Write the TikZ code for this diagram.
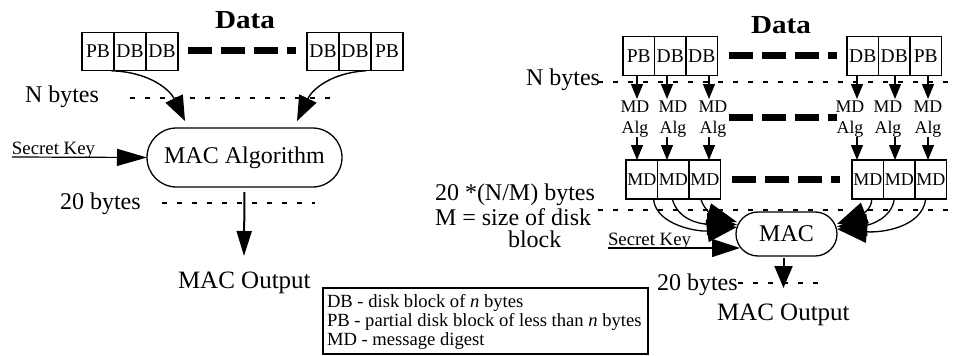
\documentclass[tikz,border=0pt]{standalone}
\usepackage{fontspec}
\setmainfont{Liberation Serif}
\usetikzlibrary{arrows.meta,shapes.misc,calc}
\newcommand\setfs[1]{\fontsize{#1}{#1}\selectfont}

\begin{document}
\begin{tikzpicture}[x=1pt,y=-1pt,
  every node/.style={inner sep=0pt,outer sep=0pt},
  cell/.style={draw,line width=1.1pt,minimum width=32pt,minimum height=38.5pt,font=\setfs{19.5}},
  rcell/.style={cell,minimum width=31.5pt},
  mdcell/.style={cell,minimum width=31.5pt,minimum height=39pt,font=\setfs{18}},
  txt/.style={anchor=base west,font=\setfs{24}},
  lbl/.style={anchor=base,font=\setfs{17.8}},
  legtxt/.style={anchor=base west,font=\setfs{18.6}},
  keytxt/.style={anchor=base west,font=\setfs{18.8}},
  title/.style={anchor=base,font=\bfseries\setfs{26}},
  macbox/.style={rounded rectangle,draw,line width=1.3pt,font=\setfs{24}},
  bigdash/.style={line width=7pt,dash pattern=on 24pt off 9pt},
  thindash/.style={line width=1.2pt,dash pattern=on 5pt off 10pt},
  lcurve/.style={line width=1.4pt,-{Triangle[length=25pt,width=19pt]}},
  rcurve/.style={line width=1.3pt,-{Triangle[length=30pt,width=22pt]}},
  smallarrow/.style={line width=1.2pt,-{Triangle[length=15pt,width=12pt]}},
  keyarrow/.style={line width=1.2pt,-{Triangle[length=30pt,width=17pt]}},
  outarrow/.style={line width=2pt,-{Triangle[length=25pt,width=15pt]}}
]
\useasboundingbox (0,0) rectangle (954,356);

% ---------------- single MAC over the whole data ----------------
\node[title] (ldata) at (245,28) {\scalebox{1.12}[1]{Data}};
\node[cell] (la1) at (98,51.5) {PB};
\node[cell] (la2) at (130,51.5) {DB};
\node[cell] (la3) at (162,51.5) {DB};
\node[cell] (lb1) at (323,51.5) {DB};
\node[cell] (lb2) at (355,51.5) {DB};
\node[cell] (lb3) at (387,51.5) {PB};
\draw[bigdash] (188,50) -- (296,50);

\node[txt] (lnb) at (25,102) {N bytes};
\draw[thindash] (130,98) -- (332,98);

\node[macbox,minimum width=195pt,minimum height=59pt] (lmac) at (244.5,157.5) {MAC Algorithm};

\coordinate (ltip1) at (185,121);
\coordinate (ltip2) at (297,121);
\draw[lcurve] ($(la1.south east)+(-3,0)$) .. controls (150,72) and (170,90) .. (ltip1);
\draw[lcurve] ($(lb3.south west)+(-5,0)$) .. controls (330,73) and (312,90) .. (ltip2);

\node[keytxt] (lsk) at (12,154) {Secret Key};
\coordinate (lskline) at (12,157);
\draw[keyarrow] (lskline) -- (lmac.west);

\node[txt] (l20) at (60,209) {20 bytes};
\draw[thindash] (162,203) -- (315,203);
\coordinate (louttip) at (244,256);
\draw[outarrow,shorten <=5pt] (lmac.south) -- (louttip);
\node[txt,font=\setfs{25}] (lout) at (178,288.5) {MAC Output};

% ---------------- legend ----------------
\node[draw,line width=1.4pt,minimum width=325pt,minimum height=66pt] (legend) at (485.5,321) {};
\node[legtxt] (lg1) at (327,307) {DB - disk block of \textit{n} bytes};
\node[legtxt] (lg2) at (327,326) {PB - partial disk block of less than \textit{n} bytes};
\node[legtxt] (lg3) at (327,345) {MD - message digest};

% ---------------- MAC over per-block digests ----------------
\node[title] (rdata) at (781,34) {\scalebox{1.12}[1]{Data}};
\node[rcell] (ra1) at (638.75,56) {PB};
\node[rcell] (ra2) at (670.25,56) {DB};
\node[rcell] (ra3) at (701.75,56) {DB};
\node[rcell] (rb1) at (862.75,56) {DB};
\node[rcell] (rb2) at (894.25,56) {DB};
\node[rcell] (rb3) at (925.75,56) {PB};
\draw[bigdash] (729,55) -- (837,55);

\node[txt] (rnb) at (526,85) {N bytes};
\draw[thindash] (598,82) -- (954,82);

% digest algorithm labels
\foreach \i/\x in {1/635,2/673,3/713,4/850,5/888,6/928}{
  \node[lbl] (md\i) at (\x,112) {MD};
  \node[lbl] (alg\i) at (\x,133) {Alg};
}
\draw[bigdash] (729,117) -- (837,117);

% digest cells
\node[mdcell] (rc1) at (641.75,179.5) {MD};
\node[mdcell] (rc2) at (673.25,179.5) {MD};
\node[mdcell] (rc3) at (704.75,179.5) {MD};
\node[mdcell] (rd1) at (867.75,179.5) {MD};
\node[mdcell] (rd2) at (899.25,179.5) {MD};
\node[mdcell] (rd3) at (930.75,179.5) {MD};
\draw[bigdash] (732,179) -- (840,179);

% block -> digest algorithm -> digest arrows
\foreach \a/\c/\x in {ra1/rc1/637,ra2/rc2/667,ra3/rc3/709,rb1/rd1/857,rb2/rd2/895,rb3/rd3/928}{
  \coordinate (top\a) at (\x,75);
  \coordinate (tip\a) at (\x,99);
  \coordinate (from\c) at (\x,137);
  \coordinate (to\c) at (\x,160);
  \draw[smallarrow] (top\a) -- (tip\a);
  \draw[smallarrow] (from\c) -- (to\c);
}

\node[txt] (r20nm) at (435,200) {20 *(N/M) bytes};
\node[txt] (rmsize) at (435,225) {M = size of disk};
\node[txt] (rblock) at (508,247) {block};
\draw[thindash] (598,210) -- (954,210);

\node[macbox,minimum width=101pt,minimum height=44pt] (rmac) at (786.5,234) {MAC};

% digests into the MAC
\coordinate (rlt1) at (737,227);
\coordinate (rlt2) at (737,224.5);
\coordinate (rlt3) at (737,222);
\draw[rcurve] ($(rc1.south east)+(-4,0)$) .. controls (656,226) and (700,232) .. (rlt1);
\draw[rcurve] ($(rc2.south)+(-1,0)$) .. controls (678,220) and (700,224) .. (rlt2);
\draw[rcurve] ($(rc3.south)+(-4,0)$) .. controls (705,212) and (715,216) .. (rlt3);
\coordinate (rrt1) at (837,224);
\coordinate (rrt2) at (837,226.5);
\coordinate (rrt3) at (837,229);
\draw[rcurve] ($(rd1.south)+(4,0)$) .. controls (872,210) and (860,215) .. (rrt1);
\draw[rcurve] ($(rd2.south)+(-5,0)$) .. controls (892,218) and (870,225) .. (rrt2);
\draw[rcurve] ($(rd3.south)+(-5,0)$) .. controls (922,228) and (880,233) .. (rrt3);

\node[keytxt] (rsk) at (608,245) {Secret Key};
\coordinate (rskline) at (608,248);
\coordinate (rsktip) at (740,248);
\draw[keyarrow,-{Triangle[length=28pt,width=18pt]}] (rskline) -- (rsktip);

\node[txt] (r20) at (657,290) {20 bytes};
\draw[thindash] (738,283) -- (820,283);
\coordinate (routtip) at (783.5,288);
\draw[outarrow,-{Triangle[length=22pt,width=18pt]},shorten <=2pt] (rmac.south -| routtip) -- (routtip);
\node[txt,font=\setfs{25}] (rout) at (717,320) {MAC Output};
\end{tikzpicture}
\end{document}
